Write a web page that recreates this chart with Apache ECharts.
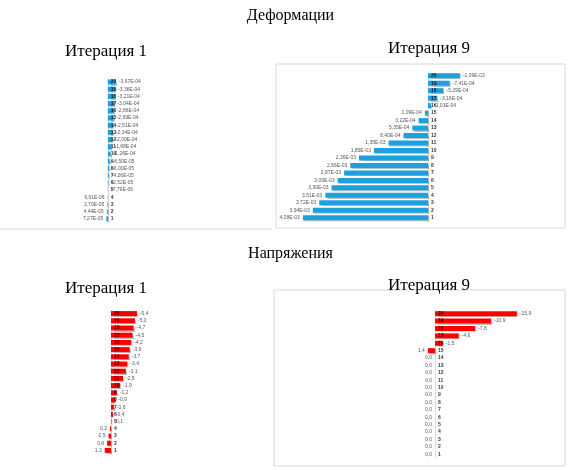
<!DOCTYPE html>
<html><head><meta charset="utf-8">
<script src="https://cdn.jsdelivr.net/npm/echarts@6/dist/echarts.min.js"></script>
<style>html,body{margin:0;background:#fff}#c{width:581px;height:470px}</style>
</head><body><div id="c"></div>
<script>
const categories = ['1','2','3','4','5','6','7','8','9','10','11','12','13','14','15','16','17','18','19','20'];
const defIter1 = [7.27e-5,4.44e-5,2.70e-5,9.61e-6,-7.79e-6,-2.52e-5,-4.26e-5,-6.00e-5,-8.50e-5,-1.26e-4,-1.68e-4,-2.09e-4,-2.34e-4,-2.51e-4,-2.69e-4,-2.86e-4,-3.04e-4,-3.21e-4,-3.38e-4,-3.67e-4];
const defIter9 = [4.28e-3,3.94e-3,3.72e-3,3.51e-3,3.30e-3,3.09e-3,2.87e-3,2.66e-3,2.36e-3,1.85e-3,1.35e-3,8.40e-4,5.35e-4,3.22e-4,1.09e-4,-1.03e-4,-3.16e-4,-5.29e-4,-7.41e-4,-1.09e-3];
const strIter1 = [1.3,0.8,0.5,0.2,-0.1,-0.4,-0.6,-0.9,-1.2,-1.9,-2.5,-3.1,-3.4,-3.7,-3.9,-4.2,-4.5,-4.7,-5.0,-5.4];
const strIter9 = [0,0,0,0,0,0,0,0,0,0,0,0,0,0,1.4,-1.5,-4.6,-7.8,-10.9,-15.9];
const titles = ['Деформации','Напряжения'];
const subTitles = ['Итерация 1','Итерация 9'];

function fmtE(v){ if(v===0) return '0,00E+00'; let s=v.toExponential(2).replace('.',','); let m=s.match(/e([+-])(\d+)/); return s.replace(/e.*/,'E'+m[1]+m[2].padStart(2,'0')); }
function fmtF(v){ return v.toFixed(1).replace('.',','); }

const panels = [
 {data:defIter1, color:'#1ba1e2', fmt:fmtE, left:60, width:100, top:78.4, height:144, max:2.2e-3, min:-2.4e-3},
 {data:defIter9, color:'#1ba1e2', fmt:fmtE, left:290, width:250, top:72, height:149.5, max:4.72e-3, min:-3.83e-3},
 {data:strIter1, color:'#ff0000', fmt:fmtF, left:60, width:100, top:310, height:144, max:10.6, min:-10.2},
 {data:strIter9, color:'#ff0000', fmt:fmtF, left:380, width:160, top:310, height:148, max:10.7, min:-20.4}
];
const grid=[],xAxis=[],yAxis=[],series=[];
panels.forEach((p,i)=>{
 grid.push({left:p.left,width:p.width,top:p.top,height:p.height});
 xAxis.push({gridIndex:i,type:'value',inverse:true,min:p.min,max:p.max,show:false});
 yAxis.push({gridIndex:i,type:'category',data:categories,
   axisLine:{onZero:true,lineStyle:{color:'#d9d9d9'}},axisTick:{show:false},axisLabel:{show:false}});
 series.push({type:'bar',xAxisIndex:i,yAxisIndex:i,barWidth:5,
   itemStyle:{color:p.color,shadowColor:'rgba(0,0,0,0.25)',shadowBlur:1,shadowOffsetX:1,shadowOffsetY:1},
   data:p.data.map(v=>({value:v,label:{position:v>=0?'left':'right'}})),
   label:{show:true,fontSize:5,color:'#595959',distance:3,formatter:q=>p.fmt(q.value)}});
 series.push({type:'scatter',xAxisIndex:i,yAxisIndex:i,symbolSize:0,z:5,
   data:categories.map(c=>[0,c]),
   label:{show:true,position:'right',distance:3,fontSize:5,fontWeight:'bold',color:'#000',formatter:q=>q.value[1]}});
});
const serif='"Liberation Serif","Times New Roman",serif';
const chart=echarts.init(document.getElementById('c'));
chart.setOption({animation:false,grid,xAxis,yAxis,series,
 title:[
  {text:titles[0],left:'center',top:3,textStyle:{fontFamily:serif,fontSize:16,fontWeight:'normal',color:'#000'}},
  {text:subTitles[0],left:60,top:38,textStyle:{fontFamily:serif,fontSize:17,fontWeight:'normal',color:'#000'}},
  {text:subTitles[1],left:383,top:35,textStyle:{fontFamily:serif,fontSize:17,fontWeight:'normal',color:'#000'}},
  {text:titles[1],left:'center',top:241,textStyle:{fontFamily:serif,fontSize:16,fontWeight:'normal',color:'#000'}},
  {text:subTitles[0],left:60,top:275,textStyle:{fontFamily:serif,fontSize:17,fontWeight:'normal',color:'#000'}},
  {text:subTitles[1],left:383,top:272,textStyle:{fontFamily:serif,fontSize:17,fontWeight:'normal',color:'#000'}}
 ],
 graphic:[
  {type:'rect',shape:{x:276,y:64,width:289,height:164},style:{fill:'none',stroke:'#d9d9d9',lineWidth:1}},
  {type:'rect',shape:{x:274,y:290,width:291,height:176},style:{fill:'none',stroke:'#d9d9d9',lineWidth:1}},
  {type:'line',shape:{x1:0,y1:229,x2:272,y2:229},style:{stroke:'#d9d9d9',lineWidth:1}}
 ]
});
</script></body></html>
